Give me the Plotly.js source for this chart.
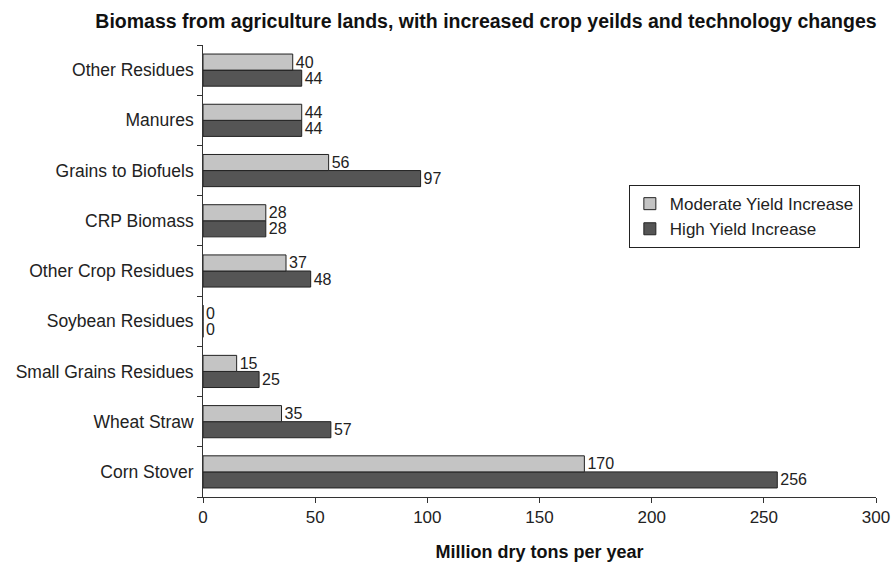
<!DOCTYPE html>
<html>
<head>
<meta charset="utf-8">
<script src="https://cdn.plot.ly/plotly-3.0.1.min.js"></script>
<style>html,body{margin:0;padding:0;background:#fff;}#chart{width:895px;height:563px;}</style>
</head>
<body>
<div id="chart"></div>
<script>
var categories = ["Corn Stover", "Wheat Straw", "Small Grains Residues", "Soybean Residues", "Other Crop Residues", "CRP Biomass", "Grains to Biofuels", "Manures", "Other Residues"];
var moderateYield = [170, 35, 15, 0, 37, 28, 56, 44, 40];
var highYield = [256, 57, 25, 0, 48, 28, 97, 44, 44];
var xTicks = [0, 50, 100, 150, 200, 250, 300];

var textFont = {family: "Liberation Sans, Arial, sans-serif", size: 16, color: "#222"};

var traces = [
  {
    type: "bar", orientation: "h", name: "High Yield Increase",
    y: categories, x: highYield,
    text: highYield.map(String), textposition: "outside", cliponaxis: false,
    textfont: textFont, constraintext: "none",
    marker: {color: "#555555", line: {color: "#222", width: 1}}
  },
  {
    type: "bar", orientation: "h", name: "Moderate Yield Increase",
    y: categories, x: moderateYield,
    text: moderateYield.map(String), textposition: "outside", cliponaxis: false,
    textfont: textFont, constraintext: "none",
    marker: {color: "#c4c4c4", line: {color: "#222", width: 1}}
  }
];

var layout = {
  width: 895, height: 563,
  margin: {l: 203, r: 19, t: 45, b: 66},
  paper_bgcolor: "#fff", plot_bgcolor: "#fff",
  font: {family: "Liberation Sans, Arial, sans-serif", size: 17, color: "#222"},
  title: {
    text: "<b>Biomass from agriculture lands, with increased crop yeilds and technology changes</b>",
    font: {size: 19.5, color: "#111"}, x: 0.543, xanchor: "center", y: 0.963, yanchor: "middle"
  },
  barmode: "group", bargap: 0.36, bargroupgap: 0,
  showlegend: true,
  legend: {
    x: 0.976, y: 0.69, xanchor: "right", yanchor: "top",
    traceorder: "reversed", bordercolor: "#222", borderwidth: 1, bgcolor: "#fff",
    font: {size: 17, color: "#222"}
  },
  xaxis: {
    range: [0, 300], tickvals: xTicks, ticktext: xTicks.map(String),
    showgrid: false, zeroline: false, showline: true, linecolor: "#333", linewidth: 1,
    ticks: "outside", ticklen: 5, tickcolor: "#333",
    tickfont: {size: 17, color: "#222"},
    title: {text: "<b>Million dry tons per year</b>", font: {size: 18, color: "#111"}, standoff: 18}
  },
  yaxis: {
    type: "category", categoryorder: "array", categoryarray: categories,
    showgrid: false, zeroline: false, showline: true, linecolor: "#333", linewidth: 1,
    ticks: "outside", ticklen: 5, tickcolor: "#333", tickson: "boundaries",
    tickfont: {size: 17.5, color: "#222"}, ticksuffix: " "
  }
};

Plotly.newPlot("chart", traces, layout, {displayModeBar: false, staticPlot: true});
</script>
</body>
</html>
